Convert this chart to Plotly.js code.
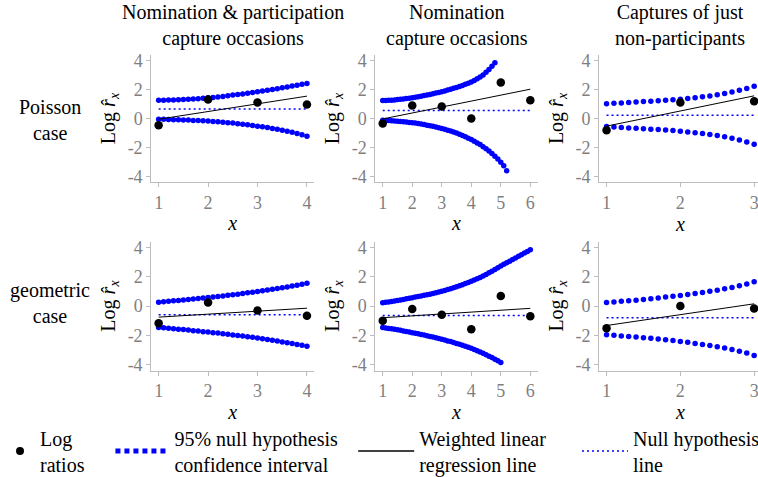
<!DOCTYPE html>
<html><head><meta charset="utf-8">
<script src="https://cdn.plot.ly/plotly-3.0.1.min.js"></script>
<style>html,body{margin:0;padding:0;overflow:hidden;background:#fff}#chart{width:766px;height:490px}</style>
</head><body><div id="chart"></div>
<script>
// x grid of the 95% null-hypothesis confidence-interval dots
const gridX = [1.0,1.1,1.2,1.3,1.4,1.5,1.6,1.7,1.8,1.9,2.0,2.1,2.2,2.3,2.4,2.5,2.6,2.7,2.8,2.9,3.0,3.1,3.2,3.3,3.4,3.5,3.6,3.7,3.8,3.9,4.0,4.1,4.2,4.3,4.4,4.5,4.6,4.7,4.8,4.9,5.0,5.1,5.2,5.3,5.4,5.5,5.6,5.7,5.8,5.9,6.0];

const colTitles = ["Nomination &amp; participation<br>capture occasions", "Nomination<br>capture occasions", "Captures of just<br>non-participants"];
const rowTitles = ["Poisson<br>case", "geometric<br>case"];
const xTitle = "<i>x</i>";
const yTitle = "Log <i>r̂</i><sub><i>x</i></sub>";
const yTickVals = [-4, -2, 0, 2, 4];
const yTickText = ["-4", "-2", "0", "2", "4"];

// Panel 1: Poisson, nomination & participation
const p1X = [1, 2, 3, 4];
const p1Log = [-0.46, 1.32, 1.11, 0.97];
const p1Null = 0.65;
const p1Reg = [-0.05, 1.55];
const p1Up = [1.27,1.27,1.28,1.29,1.30,1.32,1.33,1.35,1.37,1.40,1.43,1.46,1.49,1.52,1.57,1.62,1.66,1.70,1.75,1.80,1.85,1.90,1.96,2.01,2.07,2.13,2.19,2.25,2.31,2.37,2.43];
const p1Lo = [-0.05,-0.06,-0.07,-0.08,-0.09,-0.10,-0.11,-0.13,-0.14,-0.16,-0.18,-0.20,-0.23,-0.26,-0.29,-0.32,-0.36,-0.40,-0.44,-0.48,-0.53,-0.58,-0.63,-0.69,-0.75,-0.81,-0.88,-0.95,-1.04,-1.13,-1.23];

// Panel 2: Poisson, nomination
const p2X = [1, 2, 3, 4, 5, 6];
const p2Log = [-0.35, 0.90, 0.83, 0.00, 2.50, 1.27];
const p2Null = 0.55;
const p2Reg = [-0.03, 2.03];
const p2Up = [1.24,1.25,1.26,1.27,1.29,1.31,1.33,1.35,1.38,1.41,1.44,1.47,1.51,1.55,1.59,1.63,1.67,1.72,1.77,1.81,1.86,1.91,1.97,2.03,2.09,2.15,2.22,2.29,2.37,2.45,2.53,2.64,2.76,2.88,3.02,3.20,3.40,3.62,3.87];
const p2Lo = [-0.12,-0.13,-0.14,-0.15,-0.17,-0.19,-0.21,-0.23,-0.25,-0.27,-0.29,-0.32,-0.35,-0.38,-0.42,-0.46,-0.50,-0.54,-0.59,-0.64,-0.69,-0.75,-0.81,-0.87,-0.94,-1.01,-1.09,-1.17,-1.26,-1.36,-1.46,-1.57,-1.69,-1.81,-1.95,-2.10,-2.26,-2.43,-2.61,-2.81,-3.03,-3.28,-3.62];

// Panel 3: Poisson, non-participants
const p3X = [1, 2, 3];
const p3Log = [-0.81, 1.11, 1.20];
const p3Null = 0.23;
const p3Reg = [-0.53, 1.57];
const p3Up = [1.02,1.05,1.08,1.11,1.14,1.17,1.20,1.23,1.26,1.30,1.34,1.39,1.44,1.50,1.56,1.64,1.73,1.83,1.95,2.08,2.24];
const p3Lo = [-0.56,-0.59,-0.62,-0.65,-0.68,-0.71,-0.74,-0.77,-0.80,-0.84,-0.88,-0.93,-0.98,-1.04,-1.10,-1.18,-1.27,-1.37,-1.49,-1.62,-1.78];

// Panel 4: geometric, nomination & participation
const p4X = [1, 2, 3, 4];
const p4Log = [-1.17, 0.24, -0.31, -0.67];
const p4Null = -0.60;
const p4Reg = [-0.76, -0.15];
const p4Up = [0.26,0.29,0.32,0.35,0.38,0.41,0.44,0.48,0.51,0.55,0.58,0.62,0.65,0.69,0.73,0.77,0.81,0.85,0.90,0.94,0.99,1.04,1.09,1.14,1.19,1.25,1.30,1.36,1.42,1.48,1.55];
const p4Lo = [-1.46,-1.49,-1.52,-1.55,-1.58,-1.61,-1.64,-1.68,-1.71,-1.75,-1.78,-1.82,-1.85,-1.89,-1.93,-1.97,-2.01,-2.05,-2.10,-2.14,-2.19,-2.24,-2.29,-2.34,-2.39,-2.45,-2.50,-2.56,-2.62,-2.68,-2.75];

// Panel 5: geometric, nomination
const p5X = [1, 2, 3, 4, 5, 6];
const p5Log = [-1.00, -0.20, -0.59, -1.59, 0.68, -0.70];
const p5Null = -0.64;
const p5Reg = [-0.80, -0.16];
const p5Up = [0.22,0.25,0.28,0.31,0.34,0.37,0.41,0.45,0.49,0.53,0.57,0.61,0.65,0.69,0.73,0.77,0.81,0.86,0.91,0.95,1.00,1.06,1.12,1.18,1.24,1.31,1.38,1.45,1.53,1.60,1.68,1.77,1.86,1.95,2.05,2.15,2.26,2.37,2.49,2.61,2.73,2.84,2.95,3.06,3.17,3.28,3.39,3.50,3.61,3.72,3.84];
const p5Lo = [-1.47,-1.50,-1.53,-1.56,-1.59,-1.62,-1.66,-1.70,-1.74,-1.78,-1.82,-1.86,-1.90,-1.94,-1.98,-2.03,-2.08,-2.12,-2.17,-2.22,-2.27,-2.32,-2.38,-2.43,-2.49,-2.55,-2.61,-2.68,-2.74,-2.81,-2.89,-2.97,-3.05,-3.13,-3.22,-3.32,-3.42,-3.52,-3.63,-3.74,-3.86];

// Panel 6: geometric, non-participants
const p6X = [1, 2, 3];
const p6Log = [-1.51, 0.00, -0.17];
const p6Null = -0.80;
const p6Reg = [-1.33, 0.15];
const p6Up = [0.24,0.28,0.32,0.36,0.40,0.45,0.50,0.55,0.61,0.66,0.72,0.78,0.85,0.92,1.00,1.08,1.17,1.27,1.38,1.50,1.66];
const p6Lo = [-1.96,-2.00,-2.04,-2.08,-2.12,-2.16,-2.20,-2.25,-2.30,-2.36,-2.42,-2.48,-2.55,-2.62,-2.70,-2.78,-2.87,-2.97,-3.08,-3.21,-3.38];

const legendNames = ["Log<br>ratios", "95% null hypothesis<br>confidence interval", "Weighted linear<br>regression line", "Null hypothesis<br>line"];

// ---------- build ----------
const panels = [
  {x: p1X, log: p1Log, nul: p1Null, reg: p1Reg, up: p1Up, lo: p1Lo},
  {x: p2X, log: p2Log, nul: p2Null, reg: p2Reg, up: p2Up, lo: p2Lo},
  {x: p3X, log: p3Log, nul: p3Null, reg: p3Reg, up: p3Up, lo: p3Lo},
  {x: p4X, log: p4Log, nul: p4Null, reg: p4Reg, up: p4Up, lo: p4Lo},
  {x: p5X, log: p5Log, nul: p5Null, reg: p5Reg, up: p5Up, lo: p5Lo},
  {x: p6X, log: p6Log, nul: p6Null, reg: p6Reg, up: p6Up, lo: p6Lo}
];

const W = 766, H = 490;
const FONT = "Liberation Serif";
const BLUE = "#0000ff";
// panel pixel boxes [left, right] and [top, bottom]
const colPx = [[148, 312], [373.3, 536.5], [598.3, 761.5]];
const rowPx = [[55, 182], [241.5, 370.5]];
const xRanges = [[0.85, 4.15], [0.75, 6.25], [0.9, 3.1]];

const data = [];
const layout = {
  width: W, height: H,
  margin: {l: 0, r: 0, t: 0, b: 0, pad: 0},
  paper_bgcolor: "#fff", plot_bgcolor: "#fff",
  font: {family: FONT, color: "#000", size: 20},
  showlegend: true,
  annotations: []
};

panels.forEach((p, i) => {
  const s = i === 0 ? "" : String(i + 1);
  const col = i % 3, row = Math.floor(i / 3);
  const xa = "x" + s, ya = "y" + s;
  const last = p.x.length - 1;
  data.push({type: "scatter", mode: "markers", x: gridX.slice(0, p.up.length), y: p.up, xaxis: xa, yaxis: ya,
    marker: {color: BLUE, size: 5.5}, showlegend: false, hoverinfo: "skip"});
  data.push({type: "scatter", mode: "markers", x: gridX.slice(0, p.lo.length), y: p.lo, xaxis: xa, yaxis: ya,
    marker: {color: BLUE, size: 5.5}, showlegend: false, hoverinfo: "skip"});
  data.push({type: "scatter", mode: "lines", x: [p.x[0], p.x[last]], y: [p.nul, p.nul], xaxis: xa, yaxis: ya,
    line: {color: BLUE, width: 1.5, dash: "2px,3px"}, showlegend: false, hoverinfo: "skip"});
  data.push({type: "scatter", mode: "lines", x: [p.x[0], p.x[last]], y: p.reg, xaxis: xa, yaxis: ya,
    line: {color: "#000", width: 1}, showlegend: false, hoverinfo: "skip"});
  data.push({type: "scatter", mode: "markers", x: p.x, y: p.log, xaxis: xa, yaxis: ya,
    marker: {color: "#000", size: 8.5}, showlegend: false, hoverinfo: "skip"});

  const axCommon = {
    showline: true, linecolor: "#bdbdbd", linewidth: 1, mirror: false,
    ticks: "outside", ticklen: 4, tickcolor: "#bdbdbd", tickwidth: 1,
    tickfont: {family: FONT, size: 18, color: "#7f7f7f"},
    showgrid: false, zeroline: false, automargin: false, fixedrange: true
  };
  layout["xaxis" + s] = Object.assign({}, axCommon, {
    domain: [colPx[col][0] / W, colPx[col][1] / W], range: xRanges[col], anchor: ya,
    tickmode: "array", tickvals: p.x, ticktext: p.x.map(String),
    title: {text: xTitle, standoff: 4, font: {family: FONT, size: 20, color: "#000"}}
  });
  layout["yaxis" + s] = Object.assign({}, axCommon, {
    domain: [1 - rowPx[row][1] / H, 1 - rowPx[row][0] / H], range: [-4.4, 4.4], anchor: xa,
    tickmode: "array", tickvals: yTickVals, ticktext: yTickText,
    title: {text: yTitle, standoff: 6, font: {family: FONT, size: 20, color: "#000"}}
  });
});

colTitles.forEach((t, c) => {
  layout.annotations.push({xref: "paper", yref: "paper", x: ((colPx[c][0] + colPx[c][1]) / 2) / W, y: 1 - 26 / H,
    text: t, showarrow: false, xanchor: "center", yanchor: "middle", align: "center",
    font: {family: FONT, size: 20, color: "#000"}});
});
const rowLabelY = [120, 303];
rowTitles.forEach((t, r) => {
  layout.annotations.push({xref: "paper", yref: "paper", x: 46 / W, y: 1 - rowLabelY[r] / H,
    text: t, showarrow: false, xanchor: "center", yanchor: "middle", align: "center",
    font: {family: FONT, size: 20, color: "#000"}});
});

// legend entries (one legend box per entry, placed along the bottom)
const legIds = ["legend", "legend2", "legend3", "legend4"];
const legTextPx = [36, 171, 417, 632];
const legItemW = [30, 54, 56, 46];
data.push({type: "scatter", mode: "markers", x: [null], y: [null], name: legendNames[0], legend: "legend",
  marker: {color: "#000", size: 8}, showlegend: true, hoverinfo: "skip"});
data.push({type: "scatter", mode: "lines", x: [null], y: [null], name: legendNames[1], legend: "legend2",
  line: {color: BLUE, width: 5, dash: "5px,4px"}, showlegend: true, hoverinfo: "skip"});
data.push({type: "scatter", mode: "lines", x: [null], y: [null], name: legendNames[2], legend: "legend3",
  line: {color: "#000", width: 1.5}, showlegend: true, hoverinfo: "skip"});
data.push({type: "scatter", mode: "lines", x: [null], y: [null], name: legendNames[3], legend: "legend4",
  line: {color: BLUE, width: 1.5, dash: "2px,3px"}, showlegend: true, hoverinfo: "skip"});
legIds.forEach((id, k) => {
  layout[id] = {x: (legTextPx[k] - legItemW[k] - 10) / W, xanchor: "left", y: 1 - 451 / H, yanchor: "middle",
    orientation: "v", bgcolor: "rgba(0,0,0,0)", borderwidth: 0, itemwidth: legItemW[k],
    font: {family: FONT, size: 20, color: "#000"}, itemclick: false, itemdoubleclick: false};
});

Plotly.newPlot("chart", data, layout, {displayModeBar: false, staticPlot: true});
</script>
</body></html>
